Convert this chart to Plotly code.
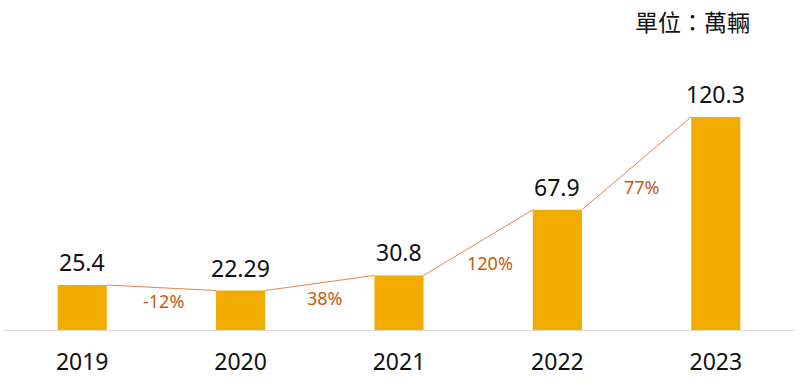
import plotly.graph_objects as go

years = ["2019", "2020", "2021", "2022", "2023"]
values = [25.4, 22.29, 30.8, 67.9, 120.3]
value_labels = ["25.4", "22.29", "30.8", "67.9", "120.3"]
growth_labels = ["-12%", "38%", "120%", "77%"]
unit_label = "單位：萬輛"

BAR_W = 0.31
FONT = "Noto Sans, Noto Sans CJK TC, sans-serif"
xs = list(range(len(years)))

fig = go.Figure()
fig.add_trace(go.Bar(x=xs, y=values, width=BAR_W, marker=dict(color="#F2AC00", line=dict(width=0)),
                     hoverinfo="skip"))

# connector lines between bar edges
lx, ly = [], []
for i in range(len(values) - 1):
    lx += [xs[i] + BAR_W / 2, xs[i + 1] - BAR_W / 2, None]
    ly += [values[i], values[i + 1], None]
fig.add_trace(go.Scatter(x=lx, y=ly, mode="lines", line=dict(color="#E2854A", width=1),
                         hoverinfo="skip"))

# value labels
for i, (v, t) in enumerate(zip(values, value_labels)):
    fig.add_annotation(x=xs[i], y=v, text=t, showarrow=False, yanchor="bottom", yshift=5,
                       font=dict(size=23, color="#111111", family=FONT))

# growth labels
shifts = [(2, -13), (5, -15), (12, -20), (5, -24)]
for i, t in enumerate(growth_labels):
    mx = (xs[i] + xs[i + 1]) / 2
    my = (values[i] + values[i + 1]) / 2
    fig.add_annotation(x=mx, y=my, text=t, showarrow=False, xshift=shifts[i][0], yshift=shifts[i][1],
                       yanchor="middle", font=dict(size=18, color="#C55A11", family=FONT))

fig.add_annotation(xref="paper", yref="paper", x=(752 - 3) / 792, y=1, xanchor="right", yanchor="middle",
                   yshift=18, text=unit_label, showarrow=False,
                   font=dict(size=23, color="#111111", family=FONT))

fig.update_layout(
    width=800, height=389,
    margin=dict(l=3, r=5, t=40, b=59),
    paper_bgcolor="white", plot_bgcolor="white",
    showlegend=False,
    xaxis=dict(tickmode="array", tickvals=xs, ticktext=years, range=[-0.5, 4.5],
               showgrid=False, zeroline=False, showline=True, linecolor="#D9D9D9", linewidth=1,
               ticks="", tickfont=dict(size=23, color="#111111", family=FONT), ticklabelstandoff=11),
    yaxis=dict(range=[0, 163.75], visible=False, showgrid=False, zeroline=False),
)

fig.write_html("out.html", config={"displayModeBar": False},
               post_script="document.body.style.margin='0';")
